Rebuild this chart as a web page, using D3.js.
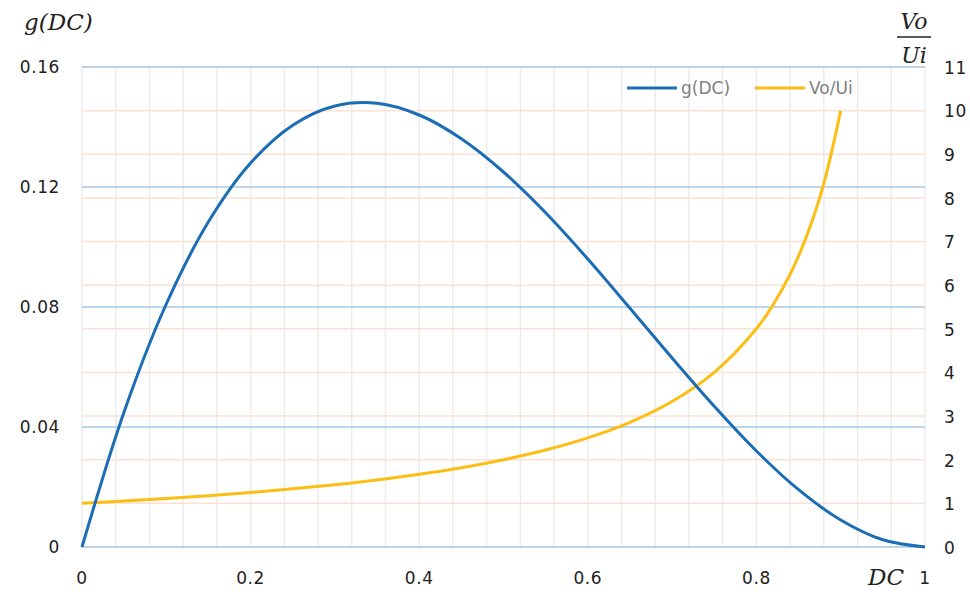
<!DOCTYPE html>
<meta charset="utf-8">
<style>
    body { margin: 0; background: #fff; }
    .tick-label { font: 17px "DejaVu Sans", sans-serif; fill: #222; letter-spacing: 0.6px; }
    .math { font-family: "DejaVu Serif", "Liberation Serif", serif; font-style: italic; fill: #222; }
    .legend text { font: 17px "DejaVu Sans", sans-serif; fill: #7f7f7f; }
</style>
<svg width="970" height="592"></svg>
<script src="https://cdn.jsdelivr.net/npm/d3@7"></script>
<script>

    // duty cycle samples
    var dcG = [0, 0.05, 0.1, 0.15, 0.2, 0.25, 0.3, 0.35, 0.4, 0.45, 0.5,
        0.55, 0.6, 0.65, 0.7, 0.75, 0.8, 0.85, 0.9, 0.95, 1];
    var gValues = [0, 0.0451, 0.081, 0.1084, 0.128, 0.1406, 0.147, 0.1479, 0.144, 0.1361, 0.125,
        0.1114, 0.096, 0.0796, 0.063, 0.0469, 0.032, 0.0191, 0.009, 0.0024, 0];

    var dcV = [0, 0.05, 0.1, 0.15, 0.2, 0.25, 0.3, 0.35, 0.4, 0.45, 0.5,
        0.55, 0.6, 0.65, 0.7, 0.75, 0.8, 0.82, 0.84, 0.86, 0.88, 0.9];
    var voValues = [1, 1.053, 1.111, 1.176, 1.25, 1.333, 1.429, 1.538, 1.667, 1.818, 2,
        2.222, 2.5, 2.857, 3.333, 4, 5, 5.556, 6.25, 7.143, 8.333, 10];

    var xTicks = [0, 0.2, 0.4, 0.6, 0.8, 1];
    var xTickLabels = ["0", "0.2", "0.4", "0.6", "0.8", "1"];
    var leftTicks = [0, 0.04, 0.08, 0.12, 0.16];
    var leftTickLabels = ["0", "0.04", "0.08", "0.12", "0.16"];
    var rightTicks = [0, 1, 2, 3, 4, 5, 6, 7, 8, 9, 10, 11];

    var blue = "#1b6db5",
        gold = "#fcbd14";

    var svg = d3.select("svg");

    var x = d3.scaleLinear().domain([0, 1]).range([82, 925]);
    var yL = d3.scaleLinear().domain([0, 0.16]).range([547, 67]);
    var yR = d3.scaleLinear().domain([0, 11]).range([547, 67]);

    // vertical minor grid
    svg.append("g").selectAll("line")
        .data(d3.range(0, 26).map(function(i) { return i * 0.04; }))
        .enter().append("line")
        .attr("x1", function(d) { return x(d); })
        .attr("x2", function(d) { return x(d); })
        .attr("y1", yL(0.16))
        .attr("y2", yL(0))
        .attr("stroke", "#ececec")
        .attr("stroke-width", 1.5);

    // right-axis grid (light orange)
    svg.append("g").selectAll("line")
        .data(rightTicks)
        .enter().append("line")
        .attr("x1", x(0))
        .attr("x2", x(1))
        .attr("y1", function(d) { return yR(d); })
        .attr("y2", function(d) { return yR(d); })
        .attr("stroke", "#fbe2d2")
        .attr("stroke-width", 1.5);

    // left-axis grid (light blue)
    svg.append("g").selectAll("line")
        .data(leftTicks)
        .enter().append("line")
        .attr("x1", x(0))
        .attr("x2", x(1))
        .attr("y1", function(d) { return yL(d); })
        .attr("y2", function(d) { return yL(d); })
        .attr("stroke", "#a6c8e6")
        .attr("stroke-width", 1.5);

    // tick labels
    svg.append("g").selectAll("text")
        .data(leftTicks)
        .enter().append("text")
        .attr("class", "tick-label")
        .attr("x", 60)
        .attr("y", function(d) { return yL(d); })
        .attr("dy", "0.36em")
        .attr("text-anchor", "end")
        .text(function(d, i) { return leftTickLabels[i]; });

    svg.append("g").selectAll("text")
        .data(rightTicks)
        .enter().append("text")
        .attr("class", "tick-label")
        .attr("x", 944)
        .attr("y", function(d) { return yR(d); })
        .attr("dy", "0.4em")
        .text(function(d) { return d; });

    svg.append("g").selectAll("text")
        .data(xTicks)
        .enter().append("text")
        .attr("class", "tick-label")
        .attr("x", function(d) { return x(d); })
        .attr("y", 584)
        .attr("text-anchor", "middle")
        .text(function(d, i) { return xTickLabels[i]; });

    // axis titles
    svg.append("text").attr("class", "math")
        .attr("x", 24).attr("y", 30)
        .style("font-size", "23px")
        .text("g(DC)");

    svg.append("text").attr("class", "math")
        .attr("x", 868).attr("y", 585)
        .style("font-size", "23px")
        .text("DC");

    svg.append("text").attr("class", "math")
        .attr("x", 914).attr("y", 29)
        .attr("text-anchor", "middle")
        .style("font-size", "22px")
        .text("Vo");
    svg.append("line")
        .attr("x1", 897).attr("x2", 931)
        .attr("y1", 37).attr("y2", 37)
        .attr("stroke", "#222").attr("stroke-width", 1.5);
    svg.append("text").attr("class", "math")
        .attr("x", 914).attr("y", 63)
        .attr("text-anchor", "middle")
        .style("font-size", "22px")
        .text("Ui");

    // curves
    var lineG = d3.line()
        .x(function(d, i) { return x(dcG[i]); })
        .y(function(d) { return yL(d); })
        .curve(d3.curveCatmullRom);

    var lineV = d3.line()
        .x(function(d, i) { return x(dcV[i]); })
        .y(function(d) { return yR(d); })
        .curve(d3.curveCatmullRom);

    svg.append("path")
        .attr("d", lineV(voValues))
        .attr("fill", "none")
        .attr("stroke", gold)
        .attr("stroke-width", 3);

    svg.append("path")
        .attr("d", lineG(gValues))
        .attr("fill", "none")
        .attr("stroke", blue)
        .attr("stroke-width", 3);

    // legend
    var legendItems = [
        {name: "g(DC)", color: blue, x: 627},
        {name: "Vo/Ui", color: gold, x: 755}
    ];
    var legend = svg.append("g").attr("class", "legend")
        .selectAll("g")
        .data(legendItems)
        .enter().append("g")
        .attr("transform", function(d) { return "translate(" + d.x + ",88)"; });
    legend.append("line")
        .attr("x1", 0).attr("x2", 50)
        .attr("stroke", function(d) { return d.color; })
        .attr("stroke-width", 3);
    legend.append("text")
        .attr("x", 54)
        .attr("dy", "0.36em")
        .text(function(d) { return d.name; });

</script>
